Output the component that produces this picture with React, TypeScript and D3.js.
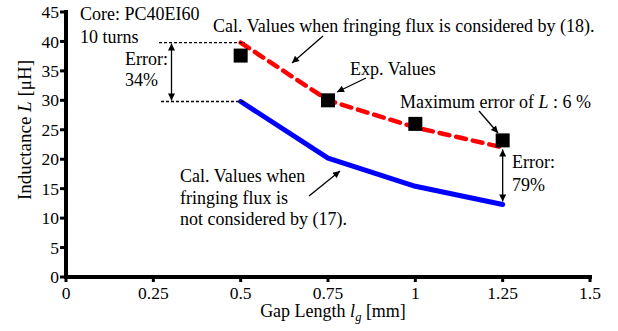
import React from "react";
import * as d3 from "d3";

// Gap length [mm] and inductance [µH]
const gapLengths = [0.5, 0.75, 1, 1.25];
const calWithFringing = [39.8, 30.0, 25.4, 22.0];
const calWithoutFringing = [29.8, 20.2, 15.4, 12.3];
const expValues = [37.6, 30.0, 26.0, 23.2];
const xTicks = [0, 0.25, 0.5, 0.75, 1, 1.25, 1.5];
const yTicks = [0, 5, 10, 15, 20, 25, 30, 35, 40, 45];

const W = 618;
const H = 331;
const FONT = '"Liberation Serif", "Times New Roman", Times, serif';
const FS = 18;
const TICK_FS = 17.5;

export default function App() {
  const x = d3.scaleLinear().domain([0, 1.5]).range([66, 590]);
  const y = d3.scaleLinear().domain([0, 45]).range([277, 12]);

  const line = d3
    .line<number>()
    .x((_, i) => x(gapLengths[i]))
    .y((d) => y(d));

  const i0 = 0;
  const iLast = gapLengths.length - 1;
  const xFirst = x(gapLengths[i0]);
  const xLast = x(gapLengths[iLast]);

  return (
    <svg
      width={W}
      height={H}
      style={{ position: "absolute", left: 0, top: 0, background: "#fff", fontFamily: FONT }}
    >
      <defs>
        <marker
          id="head"
          viewBox="0 0 10 10"
          refX="10"
          refY="5"
          markerWidth="9"
          markerHeight="7"
          markerUnits="userSpaceOnUse"
          orient="auto-start-reverse"
        >
          <path d="M0,0 L10,5 L0,10 z" fill="#000" />
        </marker>
      </defs>

      {/* axes */}
      <line x1={x(0)} y1={y(0)} x2={x(1.5) + 2} y2={y(0)} stroke="#000" strokeWidth={4} />
      <line x1={x(0)} y1={y(0) + 2} x2={x(0)} y2={y(45) - 2} stroke="#000" strokeWidth={4} />
      {xTicks.map((t) => (
        <g key={"xt" + t}>
          <line x1={x(t)} x2={x(t)} y1={y(0)} y2={y(0) + 5} stroke="#000" strokeWidth={3} />
          <text x={x(t)} y={298.5} textAnchor="middle" fontSize={TICK_FS}>
            {t}
          </text>
        </g>
      ))}
      {yTicks.map((t) => (
        <g key={"yt" + t}>
          <line x1={x(0) - 6} x2={x(0)} y1={y(t)} y2={y(t)} stroke="#000" strokeWidth={3} />
          <text x={x(0) - 7} y={y(t)} dy="0.35em" textAnchor="end" fontSize={TICK_FS}>
            {t}
          </text>
        </g>
      ))}

      {/* axis titles */}
      <text x={333} y={317} textAnchor="middle" fontSize={18}>
        Gap Length <tspan fontStyle="italic">l</tspan>
        <tspan fontStyle="italic" fontSize={12.5} dy={4}>g</tspan>
        <tspan dy={-4}> [mm]</tspan>
      </text>
      <text
        transform={`translate(31,${130}) rotate(-90)`}
        textAnchor="middle"
        fontSize={19}
      >
        Inductance <tspan fontStyle="italic">L</tspan> [μH]
      </text>

      {/* series */}
      <path
        d={line(calWithoutFringing) ?? ""}
        fill="none"
        stroke="#0000ff"
        strokeWidth={5}
        strokeLinecap="round"
        strokeLinejoin="round"
      />
      <path
        d={line(calWithFringing) ?? ""}
        fill="none"
        stroke="#ff0000"
        strokeWidth={4.5}
        strokeDasharray="10,7"
        strokeLinecap="round"
        strokeLinejoin="round"
      />
      {expValues.map((v, i) => (
        <rect
          key={"m" + i}
          x={x(gapLengths[i]) - 7}
          y={y(v) - 7}
          width={14}
          height={14}
          fill="#000"
        />
      ))}

      {/* error span at the smallest gap */}
      <line x1={159} x2={xFirst + 4} y1={y(calWithFringing[i0])} y2={y(calWithFringing[i0])}
        stroke="#000" strokeWidth={1.3} strokeDasharray="3,2" />
      <line x1={161} x2={xFirst + 4} y1={y(calWithoutFringing[i0])} y2={y(calWithoutFringing[i0])}
        stroke="#000" strokeWidth={1.3} strokeDasharray="3,2" />
      <line x1={171.5} x2={171.5} y1={y(calWithFringing[i0]) + 1} y2={y(calWithoutFringing[i0]) - 1}
        stroke="#000" strokeWidth={1.3} markerStart="url(#head)" markerEnd="url(#head)" />
      <text x={125} y={65} fontSize={FS}>Error:</text>
      <text x={125} y={86} fontSize={FS}>34%</text>

      {/* error span at the largest gap */}
      <line x1={xLast} x2={xLast} y1={y(calWithFringing[iLast]) + 2} y2={y(calWithoutFringing[iLast]) - 3}
        stroke="#000" strokeWidth={1.3} markerStart="url(#head)" markerEnd="url(#head)" />
      <text x={512} y={168} fontSize={FS}>Error:</text>
      <text x={512} y={191} fontSize={FS}>79%</text>

      {/* annotations */}
      <text x={80} y={20} fontSize={FS}>Core: PC40EI60</text>
      <text x={80} y={43} fontSize={FS}>10 turns</text>

      <text x={213} y={32} fontSize={FS}>Cal. Values when fringing flux is considered by (18).</text>
      <line x1={323} y1={36} x2={292} y2={63} stroke="#000" strokeWidth={1.3} markerEnd="url(#head)" />

      <text x={350} y={75} fontSize={FS}>Exp. Values</text>
      <line x1={366} y1={78} x2={337} y2={92} stroke="#000" strokeWidth={1.3} markerEnd="url(#head)" />

      <text x={400} y={108} fontSize={FS}>
        Maximum error of <tspan fontStyle="italic">L</tspan> : 6 %
      </text>
      <line x1={479} y1={111} x2={498} y2={133} stroke="#000" strokeWidth={1.3} markerEnd="url(#head)" />

      <text x={180} y={182} fontSize={FS}>Cal. Values when</text>
      <text x={180} y={204} fontSize={FS}>fringing flux is</text>
      <text x={180} y={225} fontSize={FS}>not considered by (17).</text>
      <line x1={309} y1={196} x2={340} y2={171} stroke="#000" strokeWidth={1.3} markerEnd="url(#head)" />
    </svg>
  );
}
